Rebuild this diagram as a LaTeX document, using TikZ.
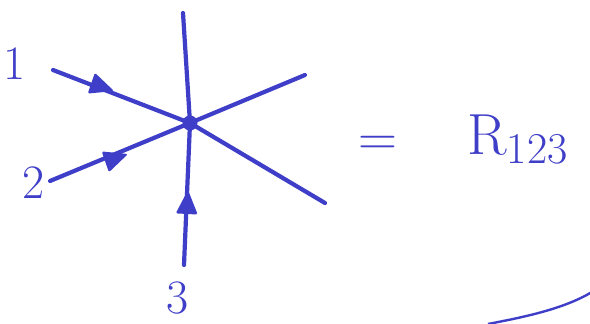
\documentclass[tikz,border=0pt]{standalone}
\usetikzlibrary{calc}
\definecolor{ink}{RGB}{62,62,200}
\newcommand{\inktip}[2]{%
  \coordinate (B#1) at ($(#1)!24pt!(#2)$);
  \fill[ink,rounded corners=1.5pt] (#1) -- ($(B#1)!11pt!90:(#1)$) -- ($(B#1)!11pt!-90:(#1)$) -- cycle;}
\begin{document}
\begin{tikzpicture}[x=1pt,y=-1pt,
  ln/.style={ink,line width=4.2pt,line cap=round},
  lbl/.style={ink,font=\fontsize{48}{50}\selectfont}]
\useasboundingbox[fill=white] (0,0) rectangle (590,324);
\node[circle,fill=ink,inner sep=0pt,minimum size=15pt] (v) at (190,123) {};
\coordinate (t) at (183,13);
\coordinate (ur) at (305,75);
\coordinate (lr) at (325,203);
\coordinate (s1) at (53,70);
\coordinate (a1) at (114,91);
\coordinate (s2) at (50,181);
\coordinate (a2) at (128,154);
\coordinate (s3) at (184,265);
\coordinate (a3) at (188,190);
\draw[ln] (t) -- (v.center);
\draw[ln] (v.center) -- (ur);
\draw[ln] (v.center) -- (lr);
\draw[ln] (s1) -- (v.center);
\draw[ln] (s2) -- (v.center);
\draw[ln] (s3) -- (v.center);
\inktip{a1}{s1}
\inktip{a2}{s2}
\inktip{a3}{s3}
\node[lbl] (n1) at (15,64) {1};
\node[lbl] (n2) at (34,183) {2};
\node[lbl] (n3) at (178,298) {3};
\node[ink,font=\fontsize{54}{56}\selectfont] (eq) at (378,146) {=};
\node[ink,font=\fontsize{58}{60}\selectfont,anchor=west] (R) at (464,140) {R\raisebox{-9pt}{\fontsize{44}{46}\selectfont 123}};
\coordinate (c1) at (488,324);
\coordinate (c2) at (592,292);
\draw[ink,line width=2.4pt] (c1) .. controls (530,316) and (565,308) .. (c2);
\end{tikzpicture}
\end{document}
